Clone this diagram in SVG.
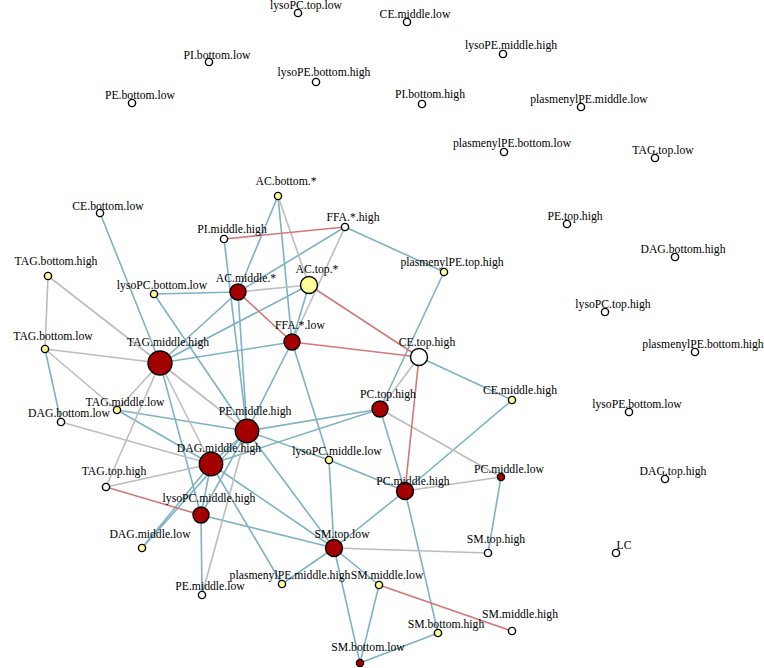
<svg xmlns="http://www.w3.org/2000/svg" width="764" height="668" viewBox="0 0 764 668">
<style>
text{font-family:"Liberation Serif","Times New Roman",serif;font-size:11.7px;fill:#000;text-anchor:middle}
line{stroke-width:1.6}
.b{stroke:#7db2c4}
.g{stroke:#bdbdbd}
.r{stroke:#d27878}
circle{stroke:#000;stroke-width:1.4}
.w{fill:#fff}
.y{fill:#ffff99}
.d{fill:#a50000}
</style>
<rect width="764" height="668" fill="#fff"/>
<g id="edges">
<line class="b" x1="100" y1="213" x2="160" y2="363"/>
<line class="b" x1="45" y1="349" x2="61" y2="422"/>
<line class="b" x1="154" y1="294" x2="238" y2="292"/>
<line class="b" x1="154" y1="294" x2="247" y2="431"/>
<line class="b" x1="278" y1="196" x2="238" y2="292"/>
<line class="b" x1="278" y1="196" x2="292" y2="342"/>
<line class="b" x1="345" y1="227" x2="238" y2="292"/>
<line class="b" x1="345" y1="227" x2="444" y2="272"/>
<line class="b" x1="309" y1="285" x2="292" y2="342"/>
<line class="b" x1="160" y1="363" x2="238" y2="292"/>
<line class="b" x1="160" y1="363" x2="309" y2="285"/>
<line class="b" x1="160" y1="363" x2="292" y2="342"/>
<line class="b" x1="444" y1="272" x2="380" y2="409"/>
<line class="b" x1="419" y1="357" x2="512" y2="400"/>
<line class="b" x1="512" y1="400" x2="405" y2="491"/>
<line class="b" x1="380" y1="409" x2="405" y2="491"/>
<line class="b" x1="380" y1="409" x2="247" y2="431"/>
<line class="b" x1="380" y1="409" x2="211" y2="464"/>
<line class="b" x1="247" y1="431" x2="329" y2="460"/>
<line class="b" x1="329" y1="460" x2="405" y2="491"/>
<line class="b" x1="329" y1="460" x2="334" y2="548"/>
<line class="b" x1="292" y1="342" x2="329" y2="460"/>
<line class="b" x1="292" y1="342" x2="247" y2="431"/>
<line class="b" x1="405" y1="491" x2="334" y2="548"/>
<line class="b" x1="405" y1="491" x2="438" y2="633"/>
<line class="b" x1="501" y1="477" x2="488" y2="553"/>
<line class="b" x1="334" y1="548" x2="379" y2="585"/>
<line class="b" x1="334" y1="548" x2="360" y2="663"/>
<line class="b" x1="379" y1="585" x2="360" y2="663"/>
<line class="b" x1="360" y1="663" x2="438" y2="633"/>
<line class="b" x1="334" y1="548" x2="201" y2="515"/>
<line class="b" x1="334" y1="548" x2="282" y2="584"/>
<line class="b" x1="334" y1="548" x2="211" y2="464"/>
<line class="b" x1="334" y1="548" x2="247" y2="431"/>
<line class="b" x1="211" y1="464" x2="282" y2="584"/>
<line class="b" x1="201" y1="515" x2="202" y2="595"/>
<line class="b" x1="201" y1="515" x2="211" y2="464"/>
<line class="b" x1="201" y1="515" x2="247" y2="431"/>
<line class="b" x1="160" y1="363" x2="201" y2="515"/>
<line class="b" x1="142" y1="548" x2="211" y2="464"/>
<line class="b" x1="142" y1="548" x2="247" y2="431"/>
<line class="b" x1="224" y1="239" x2="247" y2="431"/>
<line class="b" x1="238" y1="292" x2="247" y2="431"/>
<line class="b" x1="117" y1="410" x2="247" y2="431"/>
<line class="b" x1="117" y1="410" x2="211" y2="464"/>
<line class="b" x1="211" y1="464" x2="247" y2="431"/>
<line class="g" x1="48" y1="276" x2="160" y2="363"/>
<line class="g" x1="48" y1="276" x2="45" y2="349"/>
<line class="g" x1="45" y1="349" x2="160" y2="363"/>
<line class="g" x1="45" y1="349" x2="117" y2="410"/>
<line class="g" x1="278" y1="196" x2="309" y2="285"/>
<line class="g" x1="345" y1="227" x2="292" y2="342"/>
<line class="g" x1="238" y1="292" x2="309" y2="285"/>
<line class="g" x1="419" y1="357" x2="380" y2="409"/>
<line class="g" x1="380" y1="409" x2="501" y2="477"/>
<line class="g" x1="405" y1="491" x2="501" y2="477"/>
<line class="g" x1="334" y1="548" x2="488" y2="553"/>
<line class="g" x1="160" y1="363" x2="117" y2="410"/>
<line class="g" x1="160" y1="363" x2="106" y2="487"/>
<line class="g" x1="160" y1="363" x2="211" y2="464"/>
<line class="g" x1="160" y1="363" x2="247" y2="431"/>
<line class="g" x1="61" y1="422" x2="211" y2="464"/>
<line class="g" x1="106" y1="487" x2="211" y2="464"/>
<line class="g" x1="247" y1="431" x2="202" y2="595"/>
<line class="r" x1="224" y1="239" x2="345" y2="227"/>
<line class="r" x1="238" y1="292" x2="292" y2="342"/>
<line class="r" x1="309" y1="285" x2="419" y2="357"/>
<line class="r" x1="292" y1="342" x2="419" y2="357"/>
<line class="r" x1="419" y1="357" x2="405" y2="491"/>
<line class="r" x1="379" y1="585" x2="512" y2="631"/>
<line class="r" x1="106" y1="487" x2="201" y2="515"/>
</g>
<g id="n-lysoPC.top.low"><circle class="w" cx="298" cy="13" r="3.6"/><text x="306" y="9">lysoPC.top.low</text></g>
<g id="n-CE.middle.low"><circle class="w" cx="407" cy="22" r="3.6"/><text x="415" y="18">CE.middle.low</text></g>
<g id="n-PI.bottom.low"><circle class="w" cx="209" cy="62" r="3.6"/><text x="217" y="58.5">PI.bottom.low</text></g>
<g id="n-lysoPE.middle.high"><circle class="w" cx="503" cy="54" r="3.6"/><text x="511" y="48.5">lysoPE.middle.high</text></g>
<g id="n-lysoPE.bottom.high"><circle class="w" cx="316" cy="82" r="3.6"/><text x="324" y="76">lysoPE.bottom.high</text></g>
<g id="n-PE.bottom.low"><circle class="w" cx="132" cy="103" r="3.6"/><text x="140" y="98.5">PE.bottom.low</text></g>
<g id="n-PI.bottom.high"><circle class="w" cx="422" cy="104" r="3.6"/><text x="430" y="98">PI.bottom.high</text></g>
<g id="n-plasmenylPE.middle.low"><circle class="w" cx="581" cy="107" r="3.6"/><text x="589" y="102.5">plasmenylPE.middle.low</text></g>
<g id="n-plasmenylPE.bottom.low"><circle class="w" cx="504" cy="152" r="3.6"/><text x="512" y="147">plasmenylPE.bottom.low</text></g>
<g id="n-TAG.top.low"><circle class="w" cx="655" cy="158" r="3.6"/><text x="663" y="153.5">TAG.top.low</text></g>
<g id="n-PE.top.high"><circle class="w" cx="567" cy="224" r="3.6"/><text x="575" y="219.5">PE.top.high</text></g>
<g id="n-DAG.bottom.high"><circle class="w" cx="675" cy="257" r="3.6"/><text x="683" y="252.5">DAG.bottom.high</text></g>
<g id="n-lysoPC.top.high"><circle class="w" cx="605" cy="312" r="3.6"/><text x="613" y="307.5">lysoPC.top.high</text></g>
<g id="n-plasmenylPE.bottom.high"><circle class="w" cx="695" cy="352" r="3.6"/><text x="703" y="347.5">plasmenylPE.bottom.high</text></g>
<g id="n-lysoPE.bottom.low"><circle class="w" cx="629" cy="412" r="3.6"/><text x="637" y="407.5">lysoPE.bottom.low</text></g>
<g id="n-DAG.top.high"><circle class="w" cx="665" cy="479" r="3.6"/><text x="673" y="474.5">DAG.top.high</text></g>
<g id="n-LC"><circle class="w" cx="616" cy="553" r="3.6"/><text x="624" y="548.5">LC</text></g>
<g id="n-AC.bottom.star"><circle class="y" cx="278" cy="196" r="3.6"/><text x="286" y="184.5">AC.bottom.*</text></g>
<g id="n-CE.bottom.low"><circle class="w" cx="100" cy="213" r="3.6"/><text x="108" y="209.5">CE.bottom.low</text></g>
<g id="n-FFA.star.high"><circle class="w" cx="345" cy="227" r="3.6"/><text x="353" y="221">FFA.*.high</text></g>
<g id="n-PI.middle.high"><circle class="w" cx="224" cy="239" r="3.6"/><text x="232" y="233">PI.middle.high</text></g>
<g id="n-TAG.bottom.high"><circle class="y" cx="48" cy="276" r="3.6"/><text x="56" y="265">TAG.bottom.high</text></g>
<g id="n-plasmenylPE.top.high"><circle class="y" cx="444" cy="272" r="3.6"/><text x="452" y="266">plasmenylPE.top.high</text></g>
<g id="n-lysoPC.bottom.low"><circle class="y" cx="154" cy="294" r="3.6"/><text x="162" y="289">lysoPC.bottom.low</text></g>
<g id="n-AC.middle.star"><circle class="d" cx="238" cy="292" r="8"/><text x="246" y="282">AC.middle.*</text></g>
<g id="n-AC.top.star"><circle class="y" cx="309" cy="285" r="8.5"/><text x="317" y="273">AC.top.*</text></g>
<g id="n-FFA.star.low"><circle class="d" cx="292" cy="342" r="8"/><text x="300" y="328.5">FFA.*.low</text></g>
<g id="n-TAG.bottom.low"><circle class="y" cx="45" cy="349" r="3.6"/><text x="53" y="340">TAG.bottom.low</text></g>
<g id="n-TAG.middle.high"><circle class="d" cx="160" cy="363" r="12"/><text x="168" y="346">TAG.middle.high</text></g>
<g id="n-CE.top.high"><circle class="w" cx="419" cy="357" r="8.5"/><text x="427" y="346">CE.top.high</text></g>
<g id="n-TAG.middle.low"><circle class="y" cx="117" cy="410" r="3.6"/><text x="125" y="406">TAG.middle.low</text></g>
<g id="n-DAG.bottom.low"><circle class="w" cx="61" cy="422" r="3.6"/><text x="69" y="417">DAG.bottom.low</text></g>
<g id="n-PC.top.high"><circle class="d" cx="380" cy="409" r="8"/><text x="388" y="398">PC.top.high</text></g>
<g id="n-CE.middle.high"><circle class="y" cx="512" cy="400" r="3.6"/><text x="520" y="394">CE.middle.high</text></g>
<g id="n-PE.middle.high"><circle class="d" cx="247" cy="431" r="11.7"/><text x="255" y="415">PE.middle.high</text></g>
<g id="n-DAG.middle.high"><circle class="d" cx="211" cy="464" r="11.7"/><text x="219" y="452">DAG.middle.high</text></g>
<g id="n-lysoPC.middle.low"><circle class="y" cx="329" cy="460" r="3.6"/><text x="337" y="454.5">lysoPC.middle.low</text></g>
<g id="n-PC.middle.low"><circle class="d" cx="501" cy="477" r="3.6"/><text x="509" y="473">PC.middle.low</text></g>
<g id="n-PC.middle.high"><circle class="d" cx="405" cy="491" r="8.5"/><text x="413" y="484.5">PC.middle.high</text></g>
<g id="n-TAG.top.high"><circle class="w" cx="106" cy="487" r="3.6"/><text x="114" y="474.5">TAG.top.high</text></g>
<g id="n-lysoPC.middle.high"><circle class="d" cx="201" cy="515" r="8"/><text x="209" y="501.5">lysoPC.middle.high</text></g>
<g id="n-DAG.middle.low"><circle class="y" cx="142" cy="548" r="3.6"/><text x="150" y="538">DAG.middle.low</text></g>
<g id="n-SM.top.low"><circle class="d" cx="334" cy="548" r="8.5"/><text x="342" y="538">SM.top.low</text></g>
<g id="n-SM.top.high"><circle class="w" cx="488" cy="553" r="3.6"/><text x="496" y="543">SM.top.high</text></g>
<g id="n-plasmenylPE.middle.high"><circle class="y" cx="282" cy="584" r="3.6"/><text x="290" y="578.5">plasmenylPE.middle.high</text></g>
<g id="n-SM.middle.low"><circle class="y" cx="379" cy="585" r="3.6"/><text x="387" y="579">SM.middle.low</text></g>
<g id="n-PE.middle.low"><circle class="w" cx="202" cy="595" r="3.6"/><text x="210" y="590">PE.middle.low</text></g>
<g id="n-SM.middle.high"><circle class="w" cx="512" cy="631" r="3.6"/><text x="520" y="618">SM.middle.high</text></g>
<g id="n-SM.bottom.high"><circle class="y" cx="438" cy="633" r="3.6"/><text x="446" y="628">SM.bottom.high</text></g>
<g id="n-SM.bottom.low"><circle class="d" cx="360" cy="663" r="3.6"/><text x="368" y="651">SM.bottom.low</text></g>
</svg>
